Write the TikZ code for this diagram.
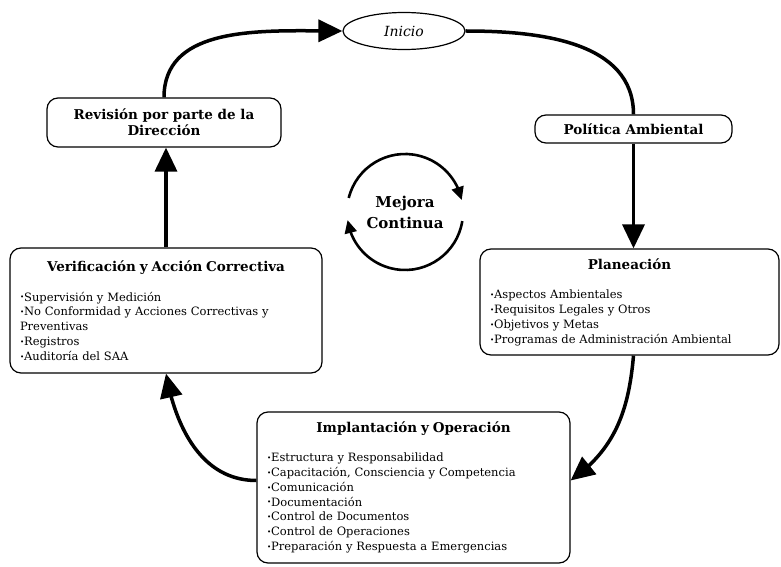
\documentclass[tikz,border=0pt]{standalone}
\usepackage{fontspec}
\setmainfont{DejaVu Serif}
\usetikzlibrary{positioning, calc, arrows.meta, bending, shapes.geometric}
\tikzset{
stage/.style = {rectangle, draw, line width = 1.2pt, rounded corners = 11pt,
   inner sep = 0pt, align = center, font = \bfseries\fontsize{13.5}{16}\selectfont},
listbox/.style = {stage, align = left, inner xsep = 10pt,
   font = \fontsize{11.5}{14.8}\selectfont},
start/.style = {ellipse, draw, line width = 1.2pt, minimum width = 122pt,
   minimum height = 37pt, inner sep = 0pt, font = \itshape\fontsize{14}{16}\selectfont},
flow/.style = {-{Triangle[length = 24pt, width = 22pt]}, line width = 3.5pt},
link/.style = {line width = 3.5pt},
cycle/.style = {-{Triangle[length = 13pt, width = 12pt, flex]}, line width = 2.6pt}
}
\newcommand{\itm}[1]{\mbox{\raisebox{.2ex}{\fontsize{7}{7}\selectfont •}#1}}
\newcommand{\boxtitle}[1]{\makebox[\hsize][c]{\bfseries\fontsize{13.5}{16}\selectfont #1}}

\begin{document}
\begin{tikzpicture}[x = 1pt, y = 1pt]
\useasboundingbox (0,0) rectangle (781,566);

%% The stages of the cycle
\node [start] (ini) at (404,535) {Inicio};
\node [stage, minimum width = 234pt, minimum height = 49pt] (rev) at (164,443.5)
   {Revisión por parte de la\\Dirección};
\node [stage, minimum width = 197pt, minimum height = 28pt] (pol) at (633.5,437)
   {Política Ambiental};

\node [listbox, text width = 292pt, minimum height = 125pt] (ver) at (166,255.5)
   {\boxtitle{Verificación y Acción Correctiva}\\[15pt]
    \itm{Supervisión y Medición}\\
    \itm{No Conformidad y Acciones Correctivas y}\\
    \mbox{Preventivas}\\
    \itm{Registros}\\
    \itm{Auditoría del SAA}};

\node [listbox, text width = 279pt, minimum height = 106pt] (pla) at (629.5,264)
   {\boxtitle{Planeación}\\[15pt]
    \itm{Aspectos Ambientales}\\
    \itm{Requisitos Legales y Otros}\\
    \itm{Objetivos y Metas}\\
    \itm{Programas de Administración Ambiental}};

\node [listbox, text width = 293pt, minimum height = 151pt] (imp) at (413.5,78.5)
   {\boxtitle{Implantación y Operación}\\[14pt]
    \itm{Estructura y Responsabilidad}\\
    \itm{Capacitación, Consciencia y Competencia}\\
    \itm{Comunicación}\\
    \itm{Documentación}\\
    \itm{Control de Documentos}\\
    \itm{Control de Operaciones}\\
    \itm{Preparación y Respuesta a Emergencias}};

%% Continual improvement in the middle
\node [align = center, font = \bfseries\fontsize{15}{21}\selectfont] (mej) at (405,354)
   {Mejora\\Continua};
\draw [cycle] ([shift = {(166:58)}]mej.center) arc [start angle = 166, end angle = 12, radius = 58];
\draw [cycle] ([shift = {(-9:58)}]mej.center) arc [start angle = -9, end angle = -172, radius = 58];

%% The main loop
\path [flow] (rev.north) edge [out = 90, in = 180] (ini.west);
\path [link] (ini.east) edge [out = 0, in = 90] (pol.north);
\path [flow] (pol.south) edge (pol.south |- pla.north);
\path [flow] (pol.south |- pla.south) edge [out = -95, in = 35] ([yshift = 7pt]imp.east);
\path [flow] ([yshift = 7pt]imp.west) edge [out = 180, in = -80] (ver.south);
\path [flow] (ver.north) edge (ver.north |- rev.south);

\end{tikzpicture}
\end{document}
